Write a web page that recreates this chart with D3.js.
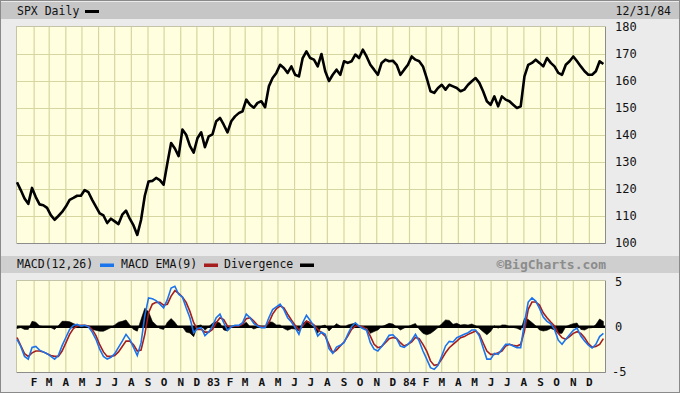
<!DOCTYPE html>
<html><head><meta charset="utf-8">
<script src="https://cdn.jsdelivr.net/npm/d3@7"></script>
<style>
body{margin:0;background:#e9e9e9;}
svg{display:block;}
text{font-family:"DejaVu Sans Mono",monospace;}
</style></head>
<body>
<svg id="chart" width="680" height="393"></svg>
<script>
// ---- data (weekly, Fridays from 1982-01-01 to 1984-12-28) ----
const title = "SPX Daily";
const dateLabel = "12/31/84";
const monthLetters = ["J","F","M","A","M","J","J","A","S","O","N","D"];
const priceTicks = [100,110,120,130,140,150,160,170,180];
const macdTicks = [5,0,-5];
const legendItems = ["MACD(12,26)","MACD EMA(9)","Divergence"];
const legendColors = ["#1c74ec","#a51d1d","#000000"];
const credit = "\u00a9BigCharts.com";

const price = [
 // 1982
 122.5,119.6,116.5,114.5,120.4,117.0,114.3,114.0,113.0,110.3,108.6,110.0,111.5,
 113.5,116.0,116.7,117.5,117.5,119.6,118.8,116.0,113.5,111.0,110.2,107.4,109.0,
 108.0,107.0,110.5,112.0,109.0,106.5,103.0,108.5,117.5,122.8,123.0,124.1,123.3,
 121.6,129.5,137.0,135.0,132.2,142.0,140.1,136.0,133.5,138.8,141.0,135.5,139.5,140.2,
 // 1983
 145.1,146.3,143.8,141.0,145.1,146.9,148.1,148.8,153.1,151.2,150.1,151.9,152.5,
 150.3,158.0,161.1,163.0,166.0,164.8,163.0,165.4,162.3,161.7,168.5,171.0,168.5,
 167.9,165.4,170.0,163.6,160.0,162.3,164.2,162.3,167.3,166.7,167.3,169.8,168.5,
 171.6,169.1,166.0,164.2,162.3,166.7,167.9,167.3,167.5,166.0,162.3,164.2,166.0,
 // 1984
 169.1,167.9,167.3,165.4,161.1,156.2,155.6,157.4,158.6,156.8,158.6,158.0,157.4,
 156.2,156.8,158.6,159.9,161.1,159.3,156.2,152.5,151.2,154.3,150.6,154.3,153.1,
 152.5,151.2,150.0,150.6,161.7,166.0,166.7,167.9,166.7,165.4,168.5,166.7,165.4,
 163.0,162.3,166.0,167.3,169.1,167.3,165.4,163.6,162.3,162.3,163.6,167.3,166.3
];
const macd = [
 -1.4,-2.2,-3.3,-3.6,-2.3,-2.2,-2.6,-2.8,-3.0,-3.3,-3.6,-3.2,-2.1,-1.2,-0.3,0.15,0.26,0.07,0.15,0,
 -0.6,-1.4,-2.5,-3.3,-3.6,-3.4,-3.0,-2.3,-1.6,-0.85,-1.4,-2.3,-3.2,-1.8,1.2,3.2,3.1,2.9,2.5,2.1,
 3.0,4.3,4.5,3.6,3.3,2.1,1.0,-0.67,-0.2,-0.1,-1.0,-0.6,0.07,1.0,1.4,0.44,-0.4,0,0.15,0.15,
 0.44,1.4,1.0,0.37,0.07,-0.1,-0.1,1.0,1.9,2.2,2.5,1.9,1.0,0.52,-0.1,-0.85,0.44,1.26,
 0.7,0.07,-1.04,-0.6,-0.85,-2.44,-2.96,-2.26,-2.07,-1.78,-0.85,0,0.44,0.07,-0.2,-0.4,-1.78,-2.5,-2.7,-2.2,
 -1.6,-0.96,-0.9,-1.33,-2.15,-2.3,-1.96,-1.5,-0.85,-1.6,-2.7,-3.6,-4.55,-4.74,-4.3,-3.26,-2.15,-1.63,-1.7,-1.22,
 -1.04,-0.85,-0.67,-0.37,-0.37,-1.04,-2.33,-3.6,-3.6,-2.96,-3.07,-2.5,-1.96,-1.96,-2.15,-2.33,-2.33,0.44,2.74,3.2,
 2.85,2.04,1.07,0.6,0.33,-0.3,-1.5,-1.96,-1.4,-0.9,-0.4,-0.15,-1.04,-1.6,-2.04,-2.37,-1.96,-1.1,-0.74
];
const signal = [
 -1.2,-2.1,-3.0,-3.3,-2.9,-2.7,-2.7,-2.8,-3.0,-3.2,-3.3,-3.3,-2.7,-1.8,-0.85,-0.2,0.07,0.15,0.15,0.07,
 -0.3,-1.0,-2.0,-2.8,-3.3,-3.3,-3.2,-2.8,-2.2,-1.6,-1.6,-2.0,-2.7,-2.6,-0.85,1.55,2.5,2.7,2.7,2.4,
 2.5,3.4,4.0,3.7,3.3,2.7,1.7,0.44,-0.3,-0.3,-0.6,-0.6,-0.3,0.44,1.0,0.8,0.07,0,0.07,0.07,
 0.26,0.9,1.0,0.63,0.15,0,0,0.44,1.4,2.0,2.3,2.1,1.4,0.74,0.15,-0.37,0.07,0.63,
 0.44,0.19,-0.3,-0.67,-1.04,-1.96,-2.9,-2.6,-2.15,-1.7,-1.04,-0.3,0.07,0.07,0,-0.3,-1.04,-1.96,-2.33,-2.2,
 -1.78,-1.33,-1.2,-1.3,-1.78,-2.15,-1.96,-1.7,-1.2,-1.33,-1.96,-2.7,-3.8,-4.3,-4.2,-3.6,-2.9,-2.33,-1.96,-1.6,
 -1.22,-1.1,-0.85,-0.67,-0.48,-0.85,-1.78,-2.7,-3.07,-3.07,-2.9,-2.7,-2.15,-1.96,-2.07,-2.15,-1.96,-0.48,1.93,2.74,
 2.74,2.4,1.55,1.0,0.52,0.07,-0.74,-1.22,-1.4,-1.1,-0.74,-0.56,-0.74,-1.22,-1.89,-2.26,-2.2,-1.96,-1.33
];

// ---- build ----
const dates = d3.timeFriday.range(new Date(1982,0,1), new Date(1985,0,1));
const n = Math.min(dates.length, price.length, macd.length, signal.length);
const rows = d3.range(n).map(i => ({date: dates[i], price: price[i], macd: macd[i], signal: signal[i], div: macd[i]-signal[i]}));

const svg = d3.select("#chart");
const W = 680, H = 393;
const L = 17, R = 605;
const P = {top: 27, bottom: 243};
const M = {top: 281, bottom: 372};
const YELLOW = "#ffffe0", GRID = "#d6d6a0";

svg.append("rect").attr("width", W).attr("height", H).attr("fill", "#ebebeb");
svg.append("rect").attr("x",0.5).attr("y",0.5).attr("width",W-1).attr("height",H-1)
  .attr("fill","none").attr("stroke","#8a8a8a");

const x = d3.scaleTime().domain([new Date(1982,0,1), new Date(1984,11,31)]).range([L, R]);
const y = d3.scaleLinear().domain([100,180]).range([P.bottom, P.top]);
const ym = d3.scaleLinear().domain([-5,5]).range([M.bottom - 0.3, M.top + 0.7]);
const months = d3.timeMonth.range(new Date(1982,1,1), new Date(1985,0,1));

// header bars
svg.append("rect").attr("x",1).attr("y",2).attr("width",W-2).attr("height",17).attr("fill","#c6c6c6");
svg.append("rect").attr("x",1).attr("y",256).attr("width",W-2).attr("height",17).attr("fill","#cfcfcf");

svg.append("text").attr("x",17).attr("y",15).attr("font-size","11.5px").attr("fill","#111").text(title);
svg.append("rect").attr("x",85).attr("y",10).attr("width",14).attr("height",3).attr("fill","#000");
svg.append("text").attr("x",671).attr("y",15).attr("text-anchor","end").attr("font-size","11.5px").attr("fill","#111").text(dateLabel);

// legend in MACD header
const legX = [17, 121, 224];
const swX = [100, 204, 300];
legendItems.forEach((t,i) => {
  svg.append("text").attr("x",legX[i]).attr("y",268).attr("font-size","11.5px").attr("fill","#111").text(t);
  svg.append("rect").attr("x",swX[i]).attr("y",263.5).attr("width",14).attr("height",3.5).attr("fill",legendColors[i]);
});
svg.append("text").attr("x",606).attr("y",269).attr("text-anchor","end")
  .attr("font-family","'Liberation Sans',Arial,sans-serif").attr("font-weight","bold")
  .attr("font-size","13px").attr("fill","#8c8c8c").text(credit);

// ---- price panel ----
svg.append("rect").attr("x",L).attr("y",P.top).attr("width",R-L).attr("height",P.bottom-P.top).attr("fill",YELLOW);
const gx = svg.append("g").attr("transform",`translate(0,${P.bottom})`)
  .call(d3.axisBottom(x).tickValues(months).tickSize(-(P.bottom-P.top)).tickFormat(""));
gx.select(".domain").remove();
gx.selectAll("line").attr("stroke",GRID).attr("stroke-width",1.2);
const gy = svg.append("g").attr("transform",`translate(${L},0)`)
  .call(d3.axisLeft(y).tickValues(priceTicks.slice(1,-1)).tickSize(-(R-L)).tickFormat(""));
gy.select(".domain").remove();
gy.selectAll("line").attr("stroke",GRID).attr("stroke-width",1.2);
svg.append("rect").attr("x",L-0.5).attr("y",P.top-0.5).attr("width",R-L+1).attr("height",P.bottom-P.top+1)
  .attr("fill","none").attr("stroke","#c4c4a8");
svg.append("path").attr("d",`M${R+0.5},${P.top}V${P.bottom+0.5}H${L}`).attr("fill","none").attr("stroke","#8c8c8c");

const priceLine = d3.line().x(d => x(d.date)).y(d => y(d.price));
svg.append("path").datum(rows).attr("d",priceLine).attr("fill","none")
  .attr("stroke","#000").attr("stroke-width",2.6).attr("stroke-linejoin","round");

const ay = svg.append("g").attr("transform",`translate(612,0)`)
  .call(d3.axisRight(y).tickValues(priceTicks).tickSize(0).tickPadding(3));
ay.select(".domain").remove();
ay.selectAll("text").attr("font-family","'Liberation Sans',Arial,sans-serif").attr("font-size","12px").attr("fill","#111");

// ---- MACD panel ----
svg.append("rect").attr("x",L).attr("y",M.top).attr("width",R-L).attr("height",M.bottom-M.top).attr("fill",YELLOW);
const gx2 = svg.append("g").attr("transform",`translate(0,${M.bottom})`)
  .call(d3.axisBottom(x).tickValues(months).tickSize(-(M.bottom-M.top)).tickFormat(""));
gx2.select(".domain").remove();
gx2.selectAll("line").attr("stroke",GRID).attr("stroke-width",1.2);
svg.append("rect").attr("x",L-0.5).attr("y",M.top-0.5).attr("width",R-L+1).attr("height",M.bottom-M.top+1)
  .attr("fill","none").attr("stroke","#c4c4a8");
svg.append("path").attr("d",`M${R+0.5},${M.top}V${M.bottom+0.5}H${L}`).attr("fill","none").attr("stroke","#8c8c8c");

const divArea = d3.area().x(d => x(d.date)).y0(ym(0)).y1(d => ym(d.div));
svg.append("path").datum(rows).attr("d",divArea).attr("fill","#000").attr("stroke","#000").attr("stroke-width",0.6);
svg.append("line").attr("x1",L).attr("x2",R).attr("y1",ym(0)).attr("y2",ym(0)).attr("stroke","#000").attr("stroke-width",2.5);

const sigLine = d3.line().x(d => x(d.date)).y(d => ym(d.signal));
const macdLine = d3.line().x(d => x(d.date)).y(d => ym(d.macd));
svg.append("path").datum(rows).attr("d",sigLine).attr("fill","none").attr("stroke",legendColors[1]).attr("stroke-width",1.6);
svg.append("path").datum(rows).attr("d",macdLine).attr("fill","none").attr("stroke",legendColors[0]).attr("stroke-width",1.6);

const aym = svg.append("g").attr("transform",`translate(612,0)`)
  .call(d3.axisRight(ym).tickValues(macdTicks).tickSize(0).tickPadding(3).tickFormat(d => d < 0 ? "-" + Math.abs(d) : d));
aym.select(".domain").remove();
aym.selectAll("text").attr("font-family","'Liberation Sans',Arial,sans-serif").attr("font-size","12px").attr("fill","#111");
aym.selectAll(".tick").filter(d => d < 0).select("text").attr("dx","-3");

// month labels
const ax = svg.append("g").attr("transform",`translate(0,${M.bottom})`)
  .call(d3.axisBottom(x).tickValues(months).tickSize(0).tickPadding(6)
    .tickFormat(d => d.getMonth() === 0 ? String(d.getFullYear()).slice(2) : monthLetters[d.getMonth()]));
ax.select(".domain").remove();
ax.selectAll("text").attr("font-family","'DejaVu Sans Mono',monospace").attr("font-weight","bold")
  .attr("font-size","11px").attr("fill","#111");
</script>
</body></html>
